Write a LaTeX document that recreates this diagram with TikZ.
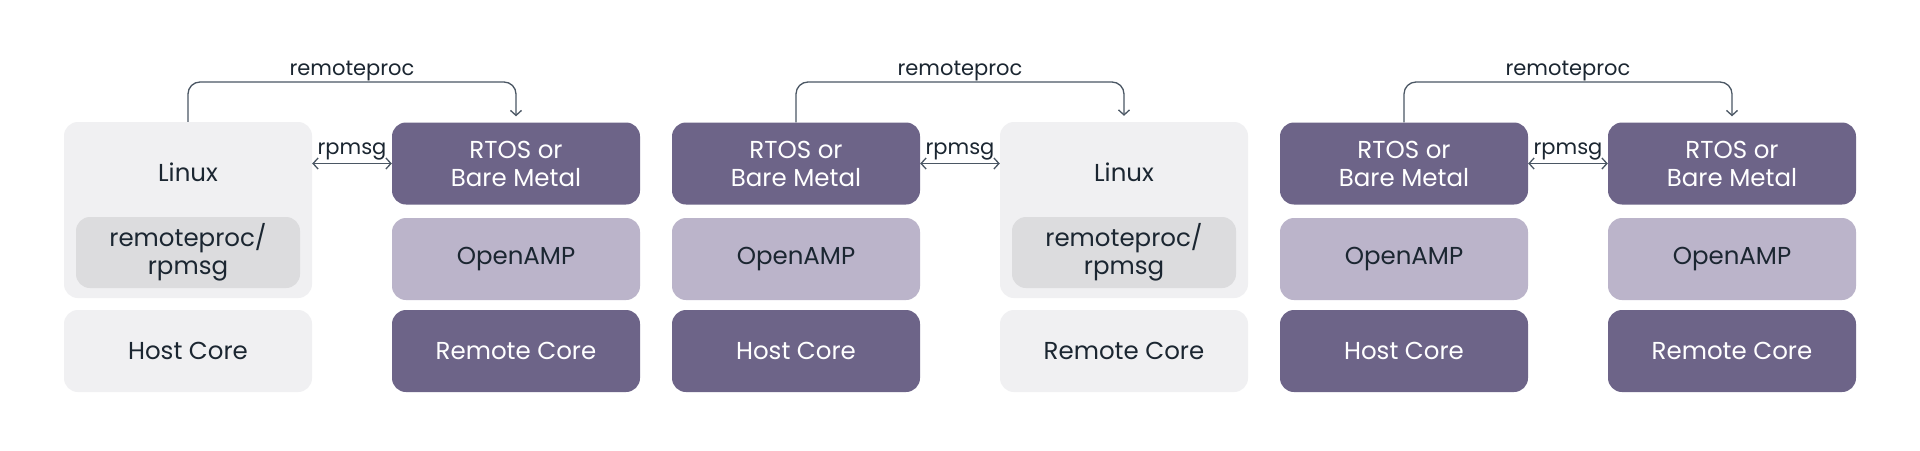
\documentclass[tikz,border=0pt]{standalone}
\usepackage{fontspec}
\setmainfont{Poppins}
\usetikzlibrary{arrows.meta}
\definecolor{darkp}{HTML}{6D6488}
\definecolor{midp}{HTML}{BBB4CA}
\definecolor{lightg}{HTML}{F0F0F2}
\definecolor{innerg}{HTML}{DCDCDE}
\definecolor{txt}{HTML}{1B2631}
\definecolor{linec}{HTML}{4B5764}
\tikzset{
  box/.style={rounded corners=14pt, minimum width=248pt, minimum height=82pt, inner sep=0pt, align=center, font=\fontsize{24.5}{28}\selectfont},
  darkbox/.style={box, fill=darkp, text=white},
  midbox/.style={box, fill=midp, text=txt},
  lightbox/.style={box, fill=lightg, text=txt},
  panel/.style={box, fill=lightg, minimum height=176pt},
  innerbox/.style={box, fill=innerg, text=txt, minimum width=224pt, minimum height=71pt},
  plain/.style={text=txt, inner sep=0pt, font=\fontsize{24.5}{28}\selectfont},
  lbl/.style={text=txt, inner sep=0pt, anchor=base, font=\fontsize{21}{24}\selectfont},
  conn/.style={draw=linec, line width=1.3pt, {Straight Barb[length=5pt,width=11pt]}-{Straight Barb[length=5pt,width=11pt]}},
  conn1/.style={draw=linec, line width=1.3pt, rounded corners=12pt, -{Straight Barb[length=5pt,width=11pt]}}
}
\begin{document}
\begin{tikzpicture}[x=1pt,y=-1pt]
\useasboundingbox[fill=white] (0,0) rectangle (1920,450);
% ---------- group 1 ----------
\node[panel] (p1) at (188,210) {};
\node[plain] (lin1) at (188,172) {Linux};
\node[innerbox] (in1) at (188,252.5) {remoteproc/\\rpmsg};
\node[lightbox] (hc1) at (188,351) {Host Core};
\node[darkbox] (rt1) at (516,163.5) {RTOS or\\Bare Metal};
\node[midbox] (oa1) at (516,259) {OpenAMP};
\node[darkbox] (rc1) at (516,351) {Remote Core};
\coordinate (t1) at (352,82);
\draw[conn1] (p1.north) -- (p1.north |- t1) -- (rt1.north |- t1) -- ([yshift=6pt]rt1.north);
\node[lbl] (l1) at (352,75) {remoteproc};
\draw[conn] (p1.east |- rt1.west) -- (rt1.west);
\node[lbl] (m1) at (352,154) {rpmsg};
% ---------- group 2 ----------
\node[darkbox] (rt2) at (796,163.5) {RTOS or\\Bare Metal};
\node[midbox] (oa2) at (796,259) {OpenAMP};
\node[darkbox] (hc2) at (796,351) {Host Core};
\node[panel] (p2) at (1124,210) {};
\node[plain] (lin2) at (1124,172) {Linux};
\node[innerbox] (in2) at (1124,252.5) {remoteproc/\\rpmsg};
\node[lightbox] (rc2) at (1124,351) {Remote Core};
\coordinate (t2) at (960,82);
\draw[conn1] (rt2.north) -- (rt2.north |- t2) -- (p2.north |- t2) -- ([yshift=6pt]p2.north);
\node[lbl] (l2) at (960,75) {remoteproc};
\draw[conn] (rt2.east) -- (p2.west |- rt2.east);
\node[lbl] (m2) at (960,154) {rpmsg};
% ---------- group 3 ----------
\node[darkbox] (rt3) at (1404,163.5) {RTOS or\\Bare Metal};
\node[midbox] (oa3) at (1404,259) {OpenAMP};
\node[darkbox] (hc3) at (1404,351) {Host Core};
\node[darkbox] (rt4) at (1732,163.5) {RTOS or\\Bare Metal};
\node[midbox] (oa4) at (1732,259) {OpenAMP};
\node[darkbox] (rc4) at (1732,351) {Remote Core};
\coordinate (t3) at (1568,82);
\draw[conn1] (rt3.north) -- (rt3.north |- t3) -- (rt4.north |- t3) -- ([yshift=6pt]rt4.north);
\node[lbl] (l3) at (1568,75) {remoteproc};
\draw[conn] (rt3.east) -- (rt4.west);
\node[lbl] (m3) at (1568,154) {rpmsg};
\end{tikzpicture}
\end{document}
